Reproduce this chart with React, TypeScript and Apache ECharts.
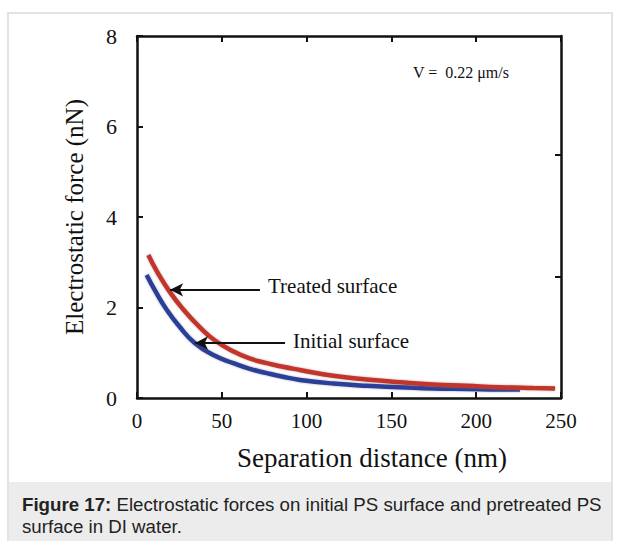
import React, { useEffect, useRef } from "react";
import * as echarts from "echarts";

// Separation distance (nm) and electrostatic force (nN) for each surface
const treatedDistance = [6.7, 12, 18.5, 27, 37.1, 46, 56.8, 66, 76.5, 86, 96.1, 115.7, 135.4, 155.1, 174.7, 194.4, 214, 233.7, 246.5];
const treatedForce = [3.16, 2.78, 2.39, 1.97, 1.56, 1.27, 1.03, 0.88, 0.77, 0.69, 0.62, 0.49, 0.41, 0.35, 0.3, 0.27, 0.24, 0.22, 0.21];

const initialDistance = [5.7, 11, 17, 25, 34.2, 45, 56.8, 66, 76.5, 86, 96.1, 115.7, 135.4, 155.1, 174.7, 194.4, 214, 225.8];
const initialForce = [2.72, 2.35, 1.98, 1.58, 1.21, 0.95, 0.77, 0.65, 0.55, 0.47, 0.4, 0.32, 0.27, 0.24, 0.21, 0.2, 0.19, 0.19];

const xTicks = [0, 50, 100, 150, 200, 250];
const yTicks = [0, 2, 4, 6, 8];
const rightTicks = [2.67, 5.37];

// Annotation arrows: [from distance, to distance, force level]
const treatedArrow = [72.5, 19.5, 2.39];
const initialArrow = [87.3, 34.2, 1.215];

const SERIF = '"Liberation Serif", "Times New Roman", serif';

function pairs(xs: number[], ys: number[]) {
  return xs.map((x, i) => [x, ys[i]]);
}

function arrow(a: number[]) {
  return {
    silent: true,
    symbol: ["none", "arrow"],
    symbolSize: [10, 13],
    label: { show: false },
    lineStyle: { color: "#111", width: 2, type: "solid" },
    data: [[{ coord: [a[0], a[2]] }, { coord: [a[1], a[2]] }]],
  };
}

function Chart() {
  const ref = useRef<HTMLDivElement>(null);
  useEffect(() => {
    if (!ref.current) return;
    const chart = echarts.init(ref.current, undefined, { renderer: "svg" });
    const axisLine = { show: true, onZero: false, lineStyle: { color: "#111", width: 2.5 } };
    const tick = { show: true, inside: true, length: 6, lineStyle: { color: "#111", width: 2 } };
    chart.setOption({
      animation: false,
      grid: { left: 137, top: 36, right: 58, bottom: 84, containLabel: false },
      xAxis: [
        {
          type: "value",
          position: "bottom",
          min: xTicks[0],
          max: xTicks[xTicks.length - 1],
          interval: 50,
          axisLine,
          axisTick: tick,
          splitLine: { show: false },
          axisLabel: { fontFamily: SERIF, fontSize: 21, color: "#111", margin: 12 },
          name: "Separation distance (nm)",
          nameLocation: "middle",
          nameGap: 46,
          nameTextStyle: {
            fontFamily: SERIF,
            fontSize: 27,
            color: "#111",
            padding: [0, 0, 0, 46],
          },
        },
        {
          type: "value",
          position: "top",
          min: xTicks[0],
          max: xTicks[xTicks.length - 1],
          interval: 50,
          axisLine,
          axisTick: tick,
          splitLine: { show: false },
          axisLabel: { show: false },
        },
      ],
      yAxis: [
        {
          type: "value",
          position: "left",
          min: yTicks[0],
          max: yTicks[yTicks.length - 1],
          interval: 2,
          axisLine,
          axisTick: tick,
          splitLine: { show: false },
          axisLabel: { fontFamily: SERIF, fontSize: 22, color: "#111", margin: 20 },
          name: "Electrostatic force (nN)",
          nameLocation: "middle",
          nameGap: 50,
          nameTextStyle: { fontFamily: SERIF, fontSize: 25, color: "#111" },
        },
        {
          type: "value",
          position: "right",
          min: yTicks[0],
          max: yTicks[yTicks.length - 1],
          axisLine,
          axisTick: { ...tick, customValues: rightTicks },
          splitLine: { show: false },
          axisLabel: { show: false },
        },
      ],
      series: [
        {
          name: "Initial surface",
          type: "line",
          smooth: true,
          symbol: "none",
          data: pairs(initialDistance, initialForce),
          lineStyle: {
            color: "#2b3f98",
            width: 4.5,
            shadowColor: "rgba(110,110,140,0.55)",
            shadowBlur: 2,
          },
          markLine: arrow(initialArrow),
        },
        {
          name: "Treated surface",
          type: "line",
          smooth: true,
          symbol: "none",
          data: pairs(treatedDistance, treatedForce),
          lineStyle: {
            color: "#c3352c",
            width: 4.5,
            shadowColor: "rgba(140,110,110,0.55)",
            shadowBlur: 2,
          },
          markLine: arrow(treatedArrow),
        },
      ],
      graphic: [
        {
          type: "text",
          x: 413,
          y: 72,
          style: {
            text: "V =  0.22 μm/s",
            font: `16px ${SERIF}`,
            fill: "#111",
            verticalAlign: "middle",
          },
        },
        {
          type: "text",
          x: 268,
          y: 286,
          style: {
            text: "Treated surface",
            font: `21px ${SERIF}`,
            fill: "#111",
            verticalAlign: "middle",
          },
        },
        {
          type: "text",
          x: 293,
          y: 341,
          style: {
            text: "Initial surface",
            font: `21px ${SERIF}`,
            fill: "#111",
            verticalAlign: "middle",
          },
        },
      ],
    });
    return () => chart.dispose();
  }, []);
  return (
    <div
      ref={ref}
      style={{ position: "absolute", left: 0, top: 0, width: 619, height: 482 }}
    />
  );
}

export default function App() {
  return (
    <div
      style={{
        position: "fixed",
        left: 0,
        top: 0,
        width: 619,
        height: 541,
        background: "#fff",
        overflow: "hidden",
      }}
    >
      <div
        style={{
          position: "absolute",
          left: 7,
          top: 12,
          width: 602,
          height: 560,
          borderLeft: "2px solid #e3e3e3",
          borderTop: "2px solid #e3e3e3",
          borderRight: "2px solid #e3e3e3",
        }}
      />
      <div
        style={{
          position: "absolute",
          left: 9,
          top: 482,
          width: 602,
          height: 80,
          background: "#ececec",
        }}
      />
      <div
        style={{
          position: "absolute",
          left: 22,
          top: 494,
          fontFamily: '"Liberation Sans", Arial, sans-serif',
          fontSize: 18.7,
          lineHeight: "22px",
          color: "#222",
          whiteSpace: "nowrap",
        }}
      >
        <span style={{ fontWeight: 700 }}>Figure 17:</span> Electrostatic forces on initial PS surface and pretreated PS
        <br />
        surface in DI water.
      </div>
      <Chart />
    </div>
  );
}
